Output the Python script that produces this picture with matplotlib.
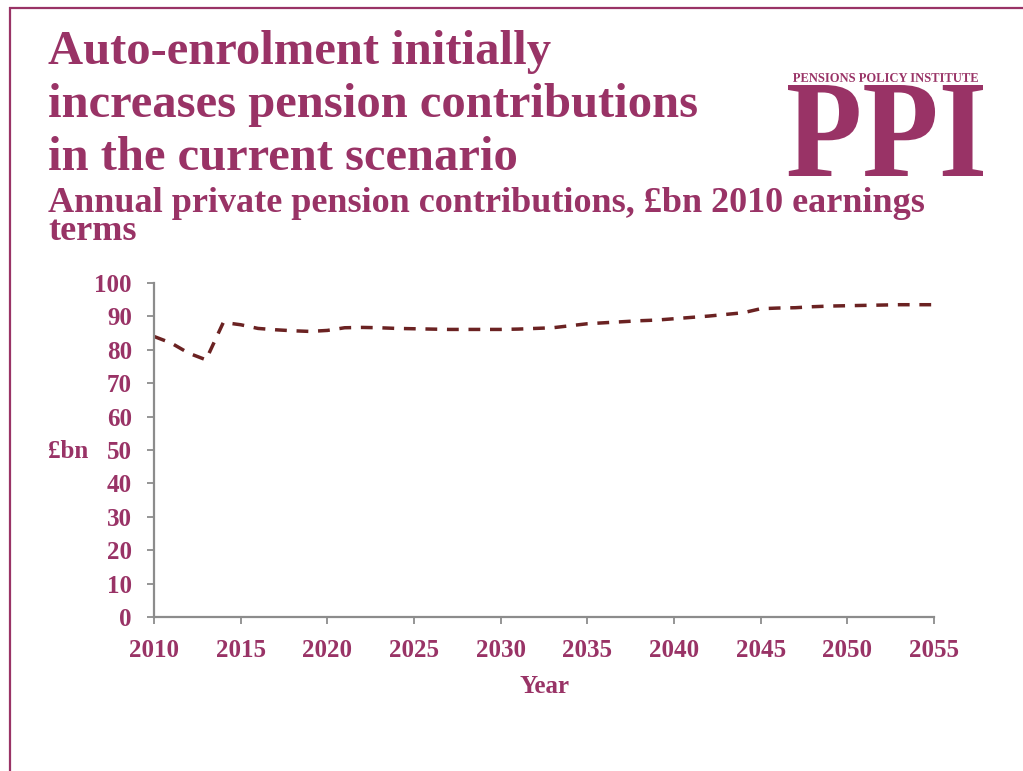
import matplotlib
matplotlib.use("Agg")
import matplotlib.pyplot as plt
from matplotlib.lines import Line2D
from matplotlib.textpath import TextPath
from matplotlib.patches import PathPatch
from matplotlib.font_manager import FontProperties
from matplotlib.transforms import Affine2D, IdentityTransform

years = list(range(2010, 2056))
contributions = [84.0, 82.0, 79.0, 77.0, 88.2, 87.5, 86.4, 86.0, 85.7, 85.5,
                 85.8, 86.6, 86.7, 86.6, 86.4, 86.3, 86.2, 86.1, 86.1, 86.1,
                 86.1, 86.2, 86.4, 86.6, 87.2, 87.8, 88.1, 88.4, 88.7, 88.9,
                 89.3, 89.7, 90.1, 90.6, 91.1, 92.3, 92.5, 92.6, 92.9, 93.1,
                 93.2, 93.3, 93.4, 93.5, 93.5, 93.5]
x_ticks = list(range(2010, 2060, 5))
y_ticks = list(range(0, 110, 10))

plum = "#993366"
line_col = "#6b2222"
serif = "Liberation Serif"

W, H = 1023, 771
fig = plt.figure(figsize=(W / 100, H / 100), dpi=100)

# page frame
fig.add_artist(Line2D([9 / W, 1], [1 - 8 / H, 1 - 8 / H], transform=fig.transFigure,
                      color=plum, lw=1.6, solid_capstyle="butt"))
fig.add_artist(Line2D([10 / W, 10 / W], [0, 1 - 7 / H], transform=fig.transFigure,
                      color=plum, lw=1.6, solid_capstyle="butt"))

title_lines = ["Auto-enrolment initially",
               "increases pension contributions",
               "in the current scenario"]
for i, t in enumerate(title_lines):
    fig.text(48 / W, 1 - (64 + 53 * i) / H, t, family=serif, weight="bold",
             size=35, color=plum, va="baseline", ha="left")
# subtitle wraps tightly onto a second line
fig.text(48 / W, 1 - 240 / H,
         "Annual private pension contributions, £bn 2010 earnings\nterms",
         family=serif, weight="bold", size=26, color=plum, va="baseline",
         linespacing=0.8)


def fitted_text(s, x0, y0, x1, y1, size):
    # squeeze a text outline into a pixel box (top-left origin)
    fp = FontProperties(family=serif, weight="bold")
    tp = TextPath((0, 0), s, size=size, prop=fp)
    ext = tp.get_extents()
    sx = (x1 - x0) / ext.width
    sy = (y1 - y0) / ext.height
    tr = (Affine2D().translate(-ext.x0, -ext.y0).scale(sx, sy)
          .translate(x0, H - y1))
    fig.add_artist(PathPatch(tr.transform_path(tp), transform=IdentityTransform(),
                             facecolor=plum, edgecolor="none"))


fitted_text("PPI", 788, 85, 983, 176, 100)
fitted_text("PENSIONS POLICY INSTITUTE", 793, 73, 978, 82, 20)

ax = fig.add_axes([154 / W, 1 - 617 / H, (934 - 154) / W, (617 - 283) / H])
ax.plot(years, contributions, color=line_col, lw=2.5, dashes=(3.4, 2.8))
ax.set_xlim(2010, 2055)
ax.set_ylim(0, 100)
ax.set_xticks(x_ticks)
ax.set_yticks(y_ticks)
for s in ("top", "right"):
    ax.spines[s].set_visible(False)
for s in ("left", "bottom"):
    ax.spines[s].set_color("#8c8c8c")
    ax.spines[s].set_linewidth(1.6)
ax.tick_params(axis="both", color="#8c8c8c", width=1.3, length=5, direction="out",
               labelcolor=plum)
ax.tick_params(axis="x", pad=11)
ax.tick_params(axis="y", pad=11)
for lab in ax.get_xticklabels() + ax.get_yticklabels():
    lab.set_family(serif)
    lab.set_weight("bold")
    lab.set_size(18)
ax.set_xlabel("Year", family=serif, weight="bold", size=18, color=plum, labelpad=9)
fig.text(48 / W, 1 - 451 / H, "£bn", family=serif, weight="bold", size=18,
         color=plum, va="center", ha="left")

fig.savefig("out.png", dpi=100)
